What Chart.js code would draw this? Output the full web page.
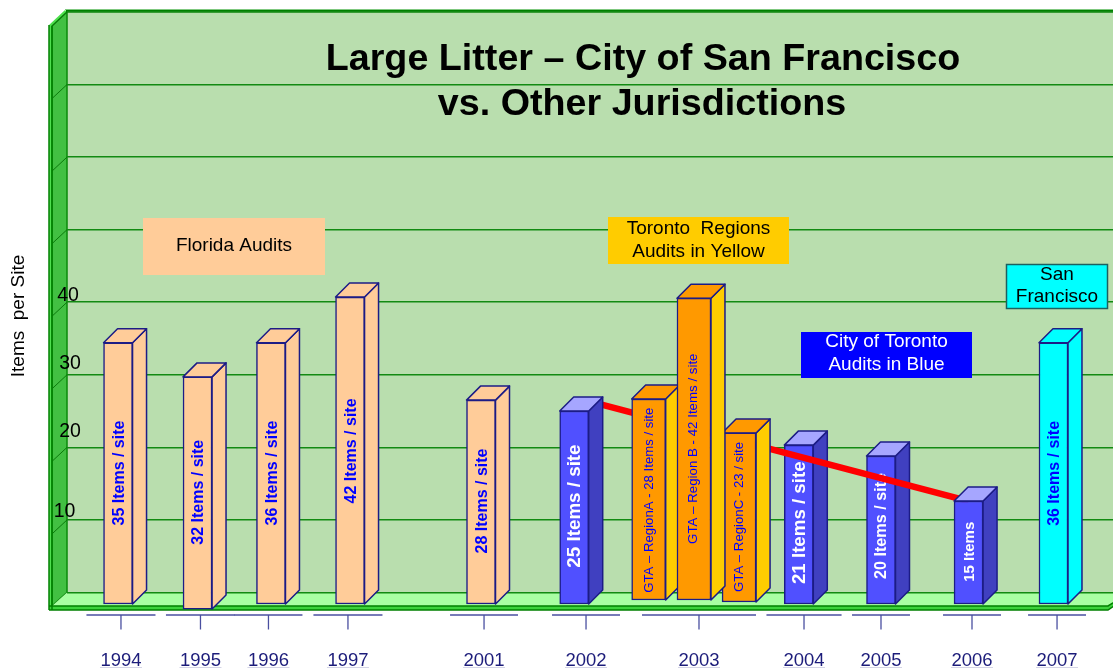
<!DOCTYPE html>
<html>
<head>
<meta charset="utf-8">
<script src="https://cdn.jsdelivr.net/npm/chart.js"></script>
<style>
  html, body { margin: 0; padding: 0; background: #fff; overflow: hidden; }
  canvas { display: block; }
</style>
</head>
<body>
<canvas id="myChart" width="1113" height="668"></canvas>
<script>
//Axis text
var titleLines = ["Large Litter \u2013 City of San Francisco", "vs. Other Jurisdictions"];
var yTitle = "Items  per Site";
var years = ["1994","1995","1996","1997","2001","2002","2003","2004","2005","2006","2007"];
var gridValues = [0,10,20,30,40,50,60,70,80];
var yTickValues = [10,20,30,40];

//Bar heights (axis units), floor = how far the foot sits off the zero line
var floridaValues = [36,32,36,42.3,28.1];
var floridaFloor = [0,-0.7,0,0,0];
var floridaLabels = ["35 Items / site","32 Items / site","36 Items / site","42 Items / site","28 Items / site"];

var cityRearValues = [21.9,20.4];
var cityRearFloor = [0,0];
var cityRearLabels = ["21 Items / site","20 Items / site"];

var cityFrontValues = [26.6,14.2];
var cityFrontFloor = [0,0];
var cityFrontLabels = ["25 Items / site","15 Items"];

//Region B comes last, its side covers the edge of region C
var gtaValues = [27.7,23.3,41.6];
var gtaFloor = [0.55,0.28,0.55];
var gtaLabels = ["GTA \u2013 RegionA - 28 Items / site","GTA \u2013 RegionC - 23 / site","GTA \u2013 Region B - 42 Items / site"];

var sfValues = [36];
var sfFloor = [0];
var sfLabels = ["36 Items / site"];

var trendValues = [26.1,12.6];

//Layout below, not data. Horizontal places are in x axis units (0-100), the years are not evenly spaced
var yearAt = [5.16,12.76,19.26,26.86,39.87,49.62,60.42,70.46,77.82,86.52,94.65];
var bracketHalf = [3.3,3.3,3.25,3.3,3.25,3.25,5.45,3.59,2.77,2.77,2.77];
var DEPTH = 14;
var FONT = '"Liberation Sans", Arial, sans-serif';

function bars(at, values, floor) {
  return values.map(function(v, i) { return {x: at[i], y: [floor[i], floor[i] + v]}; });
}

//Bars get their side and top faces here, before the normal front rectangle
var drawFront = Chart.BarElement.prototype.draw;
Chart.BarElement.prototype.draw = function(ctx) {
  var ds = this.faces;
  var l = this.x - this.width / 2, r = this.x + this.width / 2, t = this.y, b = this.base;
  ctx.save();
  ctx.lineWidth = 1.5;
  ctx.strokeStyle = ds.borderColor;
  ctx.lineJoin = "round";
  ctx.fillStyle = ds.sideColor;
  ctx.beginPath();
  ctx.moveTo(r, t); ctx.lineTo(r + DEPTH, t - DEPTH); ctx.lineTo(r + DEPTH, b - DEPTH); ctx.lineTo(r, b);
  ctx.closePath(); ctx.fill(); ctx.stroke();
  ctx.fillStyle = ds.topColor;
  ctx.beginPath();
  ctx.moveTo(l, t); ctx.lineTo(l + DEPTH, t - DEPTH); ctx.lineTo(r + DEPTH, t - DEPTH); ctx.lineTo(r, t);
  ctx.closePath(); ctx.fill(); ctx.stroke();
  ctx.restore();
  drawFront.call(this, ctx);
};

function text(ctx, str, x, y, font, color) {
  ctx.font = font;
  ctx.fillStyle = color;
  ctx.textAlign = "center";
  ctx.textBaseline = "middle";
  ctx.fillText(str, x, y);
}

//Green box the chart stands in: back wall, left wall, floor
var wallsPlugin = {
  id: "walls",
  beforeDraw: function(chart) {
    var ctx = chart.ctx, a = chart.chartArea, y = chart.scales.y;
    var floorBack = y.getPixelForValue(0), frontY = floorBack + 13.5;
    var l = a.left, sideL = l - 15, right = a.right;
    ctx.save();
    ctx.fillStyle = "#b9deae";
    ctx.fillRect(l, a.top, right - l, floorBack - a.top);
    //outer strip on the left
    ctx.fillStyle = "#4fe04f";
    ctx.beginPath();
    ctx.moveTo(sideL - 3, 25); ctx.lineTo(l - 2, 10); ctx.lineTo(l, 12); ctx.lineTo(sideL, 26);
    ctx.lineTo(sideL, a.bottom); ctx.lineTo(sideL - 3, a.bottom);
    ctx.closePath(); ctx.fill();
    //left wall
    ctx.fillStyle = "#42c042";
    ctx.beginPath();
    ctx.moveTo(sideL, 26); ctx.lineTo(l, a.top); ctx.lineTo(l, floorBack); ctx.lineTo(sideL, frontY);
    ctx.closePath(); ctx.fill();
    ctx.strokeStyle = "#0a8a0a"; ctx.lineWidth = 1.5;
    ctx.stroke();
    ctx.strokeStyle = "#0a7a0a"; ctx.lineWidth = 1;
    gridValues.forEach(function(v) {
      var p = y.getPixelForValue(v);
      ctx.beginPath(); ctx.moveTo(l, p); ctx.lineTo(sideL, p + 14); ctx.stroke();
    });
    //floor
    ctx.fillStyle = "#a9ffa3";
    ctx.beginPath();
    ctx.moveTo(l, floorBack); ctx.lineTo(right + 20, floorBack); ctx.lineTo(right - 5, frontY); ctx.lineTo(sideL, frontY);
    ctx.closePath(); ctx.fill();
    //front lip of the floor
    ctx.fillStyle = "#3cd23c";
    ctx.beginPath();
    ctx.moveTo(sideL - 3, frontY); ctx.lineTo(right - 5, frontY); ctx.lineTo(right + 8, frontY - 8); ctx.lineTo(right + 8, frontY - 5); ctx.lineTo(right - 5, a.bottom); ctx.lineTo(sideL - 3, a.bottom);
    ctx.closePath(); ctx.fill();
    ctx.strokeStyle = "#008000"; ctx.lineWidth = 1.5;
    ctx.beginPath(); ctx.moveTo(sideL - 3, frontY); ctx.lineTo(right - 5, frontY); ctx.lineTo(right + 8, frontY - 8); ctx.stroke();
    ctx.beginPath(); ctx.moveTo(sideL - 3, a.bottom); ctx.lineTo(right - 5, a.bottom); ctx.lineTo(right + 8, frontY - 5); ctx.stroke();
    ctx.beginPath(); ctx.moveTo(sideL - 3, a.bottom); ctx.lineTo(sideL - 3, 25); ctx.stroke();
    ctx.beginPath(); ctx.moveTo(sideL, a.bottom); ctx.lineTo(sideL, 26); ctx.stroke();
    //top edge
    ctx.fillStyle = "#008000";
    ctx.fillRect(l - 1, a.top - 2, right - l + 1, 2.5);
    ctx.fillStyle = "#7fc87f";
    ctx.fillRect(l - 2, a.top - 3, right - l + 2, 1);
    //brackets and ticks under the floor
    ctx.strokeStyle = "#4a4fa0";
    years.forEach(function(yr, i) {
      var c = chart.scales.x.getPixelForValue(yearAt[i]);
      var x0 = chart.scales.x.getPixelForValue(yearAt[i] - bracketHalf[i]);
      var x1 = chart.scales.x.getPixelForValue(yearAt[i] + bracketHalf[i]);
      ctx.lineWidth = 1.3;
      ctx.beginPath(); ctx.moveTo(x0, 615); ctx.lineTo(x1, 615); ctx.stroke();
      ctx.beginPath(); ctx.moveTo(c, 615); ctx.lineTo(c, 629.5); ctx.stroke();
      ctx.lineWidth = 1;
    });
    ctx.restore();
  }
};

//Rotated text on each bar, drawn with its own dataset so the red line can cross it
var barLabelPlugin = {
  id: "barLabels",
  beforeDatasetDraw: function(chart, args) {
    var ds = chart.data.datasets[args.index];
    args.meta.data.forEach(function(el) { el.faces = ds; });
  },
  afterDatasetDraw: function(chart, args) {
    var ds = chart.data.datasets[args.index];
    if (!ds.itemLabels) return;
    var ctx = chart.ctx, y = chart.scales.yFront;
    args.meta.data.forEach(function(bar, i) {
      ctx.save();
      ctx.translate(bar.x + ds.labelShift[i], y.getPixelForValue(ds.labelMid[i]));
      ctx.rotate(-Math.PI / 2);
      text(ctx, ds.itemLabels[i], 0, 0, ds.labelFont[i] + " " + FONT, ds.labelColor);
      ctx.restore();
    });
  }
};

//Title, captions and y axis text go over everything
var notesPlugin = {
  id: "notes",
  afterDraw: function(chart) {
    var ctx = chart.ctx, y = chart.scales.y;
    function box(l, t, r, b, fill, lines, color, edge) {
      ctx.fillStyle = fill;
      ctx.fillRect(l, t, r - l, b - t);
      if (edge) { ctx.strokeStyle = edge; ctx.lineWidth = 1.5; ctx.strokeRect(l + 0.5, t + 0.5, r - l - 1, b - t - 1); }
      lines.forEach(function(ln) { text(ctx, ln[0], (l + r) / 2, ln[1], "19px " + FONT, color); });
    }
    ctx.save();
    text(ctx, titleLines[0], 643, 60, "bold 37.7px " + FONT, "#000");
    text(ctx, titleLines[1], 642, 105, "bold 37.7px " + FONT, "#000");
    box(143, 218, 325, 275, "#ffcc99", [["Florida Audits", 246]], "#000");
    box(608, 217, 789, 264, "#ffcc00", [["Toronto  Regions", 229], ["Audits in Yellow", 252]], "#000");
    box(801, 332, 972, 378, "#0000ff", [["City of Toronto", 342], ["Audits in Blue", 365]], "#fff");
    box(1006, 264, 1108, 309, "#00ffff", [["San", 275], ["Francisco", 297]], "#000", "#1c6060");
    //hand placed in the original, they do not sit on their grid lines
    var nudge = [-8, -15.5, -11, -6.5], labelX = [64.5, 70, 70, 68];
    yTickValues.forEach(function(v, i) {
      text(ctx, String(v), labelX[i], y.getPixelForValue(v) + nudge[i], "19.5px " + FONT, "#000");
    });
    ctx.translate(19, 316);
    ctx.rotate(-Math.PI / 2);
    text(ctx, yTitle, 0, 0, "19px " + FONT, "#000");
    ctx.restore();
    //faint line below the year labels
    ctx.save();
    ctx.strokeStyle = "#d4d4e6";
    years.forEach(function(yr, i) {
      var c = chart.scales.x.getPixelForValue(yearAt[i]);
      ctx.beginPath(); ctx.moveTo(c - 21, 667.5); ctx.lineTo(c + 21, 667.5); ctx.stroke();
    });
    ctx.restore();
  }
};

var navy = "#1c1c86";
var ctx = document.getElementById("myChart");
var myChart = new Chart(ctx, {
  type: "bar",
  plugins: [wallsPlugin, barLabelPlugin, notesPlugin],
  data: {
    datasets: [
      {
        label: "Florida audits",
        data: bars([4.88,12.48,19.50,27.06,39.58], floridaValues, floridaFloor),
        yAxisID: "yFront", order: 6, barThickness: 29,
        backgroundColor: "#ffcc99", sideColor: "#ffcc99", topColor: "#ffcc99", borderColor: navy,
        itemLabels: floridaLabels, labelColor: "#0000ff",
        labelMid: [18.05,15.4,18.05,21.1,14.2], labelShift: [1.5,1.5,1.5,1.5,1.5],
        labelFont: ["bold 16px","bold 16px","bold 16px","bold 16px","bold 16px"]
      },
      {
        label: "City of Toronto 2004-2005",
        data: bars([69.96,77.82], cityRearValues, cityRearFloor),
        yAxisID: "yFront", order: 5, barThickness: 29,
        backgroundColor: "#5050ff", sideColor: "#4040c0", topColor: "#a6a6ff", borderColor: navy,
        itemLabels: cityRearLabels, labelColor: "#fff",
        labelMid: [11.2,10.75], labelShift: [1,1],
        labelFont: ["bold 18.7px","bold 16.2px"]
      },
      {
        label: "Trend",
        type: "line",
        data: [{x: 50.57, y: trendValues[0]}, {x: 86.19, y: trendValues[1]}],
        yAxisID: "y", order: 4,
        borderColor: "#ff0000", borderWidth: 6.5, pointRadius: 0, fill: false
      },
      {
        label: "City of Toronto 2002, 2006",
        data: bars([48.49,86.19], cityFrontValues, cityFrontFloor),
        yAxisID: "yFront", order: 3, barThickness: 29,
        backgroundColor: "#5050ff", sideColor: "#4040c0", topColor: "#a6a6ff", borderColor: navy,
        itemLabels: cityFrontLabels, labelColor: "#fff",
        labelMid: [13.5,7.2], labelShift: [1,1],
        labelFont: ["bold 18.8px","bold 15px"]
      },
      {
        label: "GTA regions",
        data: bars([55.61,64.25,59.94], gtaValues, gtaFloor),
        yAxisID: "yFront", order: 2, barThickness: 34,
        backgroundColor: "#ff9900", sideColor: "#ffcc00", topColor: "#ff9900", borderColor: navy,
        itemLabels: gtaLabels, labelColor: "#0000ff",
        labelMid: [14.3,12,21.4], labelShift: [0.5,0.5,-0.5],
        labelFont: ["13.2px","13.2px","13.3px"]
      },
      {
        label: "San Francisco",
        data: bars([94.31], sfValues, sfFloor),
        yAxisID: "yFront", order: 1, barThickness: 29,
        backgroundColor: "#00ffff", sideColor: "#00ffff", topColor: "#00ffff", borderColor: navy,
        itemLabels: sfLabels, labelColor: "#0000ff",
        labelMid: [18], labelShift: [1.5],
        labelFont: ["bold 16px"]
      }
    ]
  },
  options: {
    responsive: false,
    animation: false,
    events: [],
    layout: {padding: {left: 67, top: 12, right: 0, bottom: 0}},
    datasets: {bar: {grouped: false, borderWidth: 1.5, borderSkipped: false}},
    plugins: {legend: {display: false}, tooltip: {enabled: false}},
    scales: {
      x: {
        type: "linear", min: 0, max: 100, offset: false,
        grid: {display: false, offset: false},
        border: {display: false},
        afterBuildTicks: function(scale) { scale.ticks = yearAt.map(function(v) { return {value: v}; }); },
        afterFit: function(scale) { scale.height = 58; scale.paddingLeft = 0; scale.paddingRight = 0; },
        ticks: {
          autoSkip: false, maxRotation: 0, padding: 32,
          color: "#1c1c7a", font: {family: FONT, size: 18.5},
          callback: function(value, index) { return years[index]; }
        }
      },
      //back wall scale, 0 sits at the back of the floor
      y: {
        min: -2.412, max: 80,
        grid: {color: "#128a12", lineWidth: 1.5, drawTicks: false},
        border: {display: false},
        ticks: {display: false},
        afterBuildTicks: function(scale) { scale.ticks = gridValues.map(function(v) { return {value: v}; }); },
        afterFit: function(scale) { scale.width = 0; scale.paddingTop = 0; scale.paddingBottom = 0; }
      },
      //same scale moved forward to the front of the floor, the bars stand on this one
      yFront: {display: false, min: -0.827, max: 81.59}
    }
  }
});
</script>
</body>
</html>
